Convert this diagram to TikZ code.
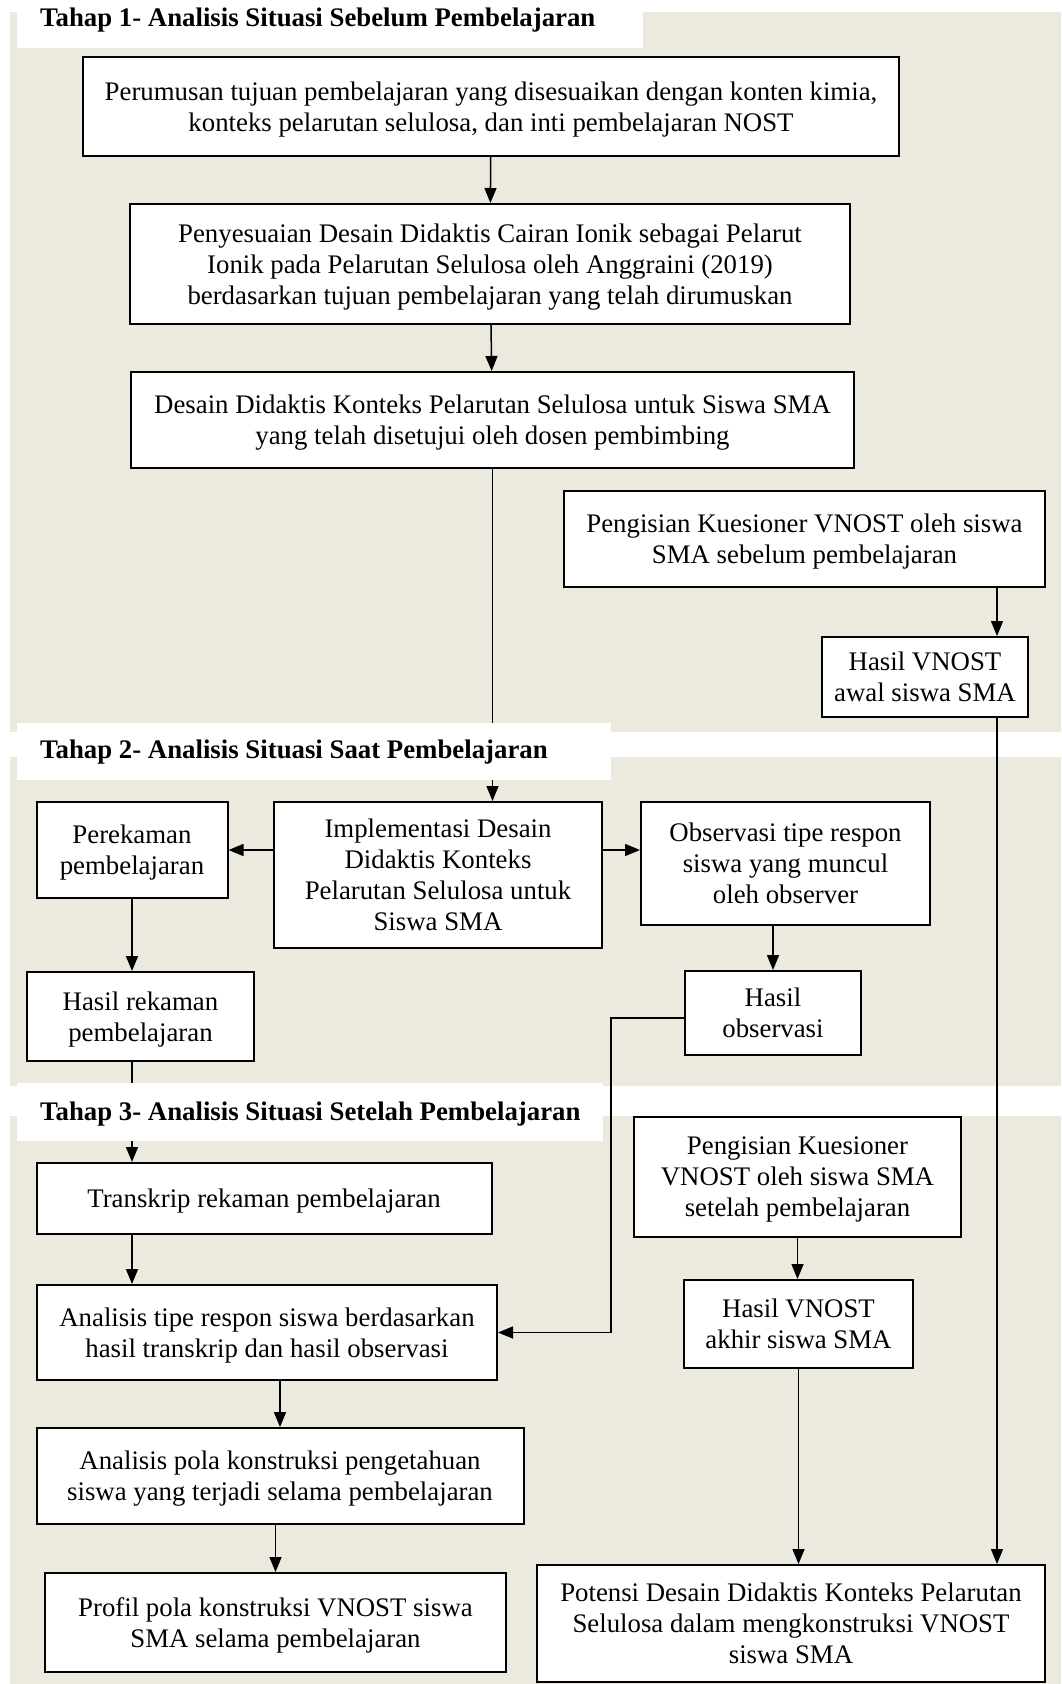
\documentclass[tikz,border=0pt]{standalone}
\usepackage{fontspec}
\setmainfont{Liberation Serif}
\usetikzlibrary{arrows.meta}
\definecolor{bandbeige}{RGB}{236,233,223}

\begin{document}
\begin{tikzpicture}[
    x=1pt, y=-1pt,
    box/.style={draw,fill=white,line width=2pt,align=center,inner sep=0pt,
        text depth=0pt,font=\fontsize{26.8}{31}\selectfont},
    tahap/.style={anchor=west,inner sep=0pt,font=\bfseries\fontsize{26.8}{31}\selectfont},
    flow/.style={->,line width=1.5pt},
    >={Triangle[length=15pt,width=12pt]}
]
\useasboundingbox (0,0) rectangle (1061,1684);

% bands
\fill[bandbeige] (10,12) rectangle (1061,732);
\fill[bandbeige] (10,757) rectangle (1061,1086);
\fill[bandbeige] (10,1116) rectangle (1061,1684);

% tahap 1
\node[box,minimum width=816pt,minimum height=99pt] (rumusan) at (491,106.5)
    {Perumusan tujuan pembelajaran yang disesuaikan dengan konten kimia,\\
     konteks pelarutan selulosa, dan inti pembelajaran NOST};
\node[box,minimum width=720pt,minimum height=120pt] (penyesuaian) at (490,264)
    {Penyesuaian Desain Didaktis Cairan Ionik sebagai Pelarut\\
     Ionik pada Pelarutan Selulosa oleh Anggraini (2019)\\
     berdasarkan tujuan pembelajaran yang telah dirumuskan};
\node[box,minimum width=723pt,minimum height=96pt] (desain) at (492.5,420)
    {Desain Didaktis Konteks Pelarutan Selulosa untuk Siswa SMA\\
     yang telah disetujui oleh dosen pembimbing};
\node[box,minimum width=481pt,minimum height=96pt] (kuesawal) at (804.5,539)
    {Pengisian Kuesioner VNOST oleh siswa\\ SMA sebelum pembelajaran};
\node[box,minimum width=206pt,minimum height=80pt] (hasilawal) at (925,677)
    {Hasil VNOST\\ awal siswa SMA};
\coordinate (jalurkanan) at (997,0);

% tahap 2
\node[box,minimum width=191pt,minimum height=96pt] (rekam) at (132,850)
    {Perekaman\\ pembelajaran};
\node[box,minimum width=328pt,minimum height=146pt] (implementasi) at (438,875)
    {Implementasi Desain\\ Didaktis Konteks\\ Pelarutan Selulosa untuk\\ Siswa SMA};
\node[box,minimum width=289pt,minimum height=123pt] (observasi) at (785.5,863.5)
    {Observasi tipe respon\\ siswa yang muncul\\ oleh observer};
\node[box,minimum width=227pt,minimum height=89pt] (hasilrekam) at (140.5,1016.5)
    {Hasil rekaman\\ pembelajaran};
\node[box,minimum width=176pt,minimum height=84pt] (hasilobs) at (773,1013)
    {Hasil\\ observasi};
\coordinate (belokobs) at (611,1018);

% tahap 3
\node[box,minimum width=455pt,minimum height=71pt] (transkrip) at (264,1198.5)
    {Transkrip rekaman pembelajaran};
\node[box,minimum width=460pt,minimum height=95pt] (analisisrespon) at (267,1332.5)
    {Analisis tipe respon siswa berdasarkan\\ hasil transkrip dan hasil observasi};
\node[box,minimum width=487pt,minimum height=96pt] (analisispola) at (280,1476)
    {Analisis pola konstruksi pengetahuan\\ siswa yang terjadi selama pembelajaran};
\node[box,minimum width=461pt,minimum height=99pt] (profil) at (275.5,1622.5)
    {Profil pola konstruksi VNOST siswa\\ SMA selama pembelajaran};
\node[box,minimum width=327pt,minimum height=120pt] (kuesakhir) at (797.5,1177)
    {Pengisian Kuesioner\\ VNOST oleh siswa SMA\\ setelah pembelajaran};
\node[box,minimum width=229pt,minimum height=88pt] (hasilakhir) at (798.5,1324)
    {Hasil VNOST\\ akhir siswa SMA};
\node[box,minimum width=508pt,minimum height=117pt] (potensi) at (791,1623.5)
    {Potensi Desain Didaktis Konteks Pelarutan\\ Selulosa dalam mengkonstruksi VNOST\\ siswa SMA};

% connectors
\draw[flow] (rumusan) -- (penyesuaian);
\draw[flow] (penyesuaian) -- (desain);
\draw[flow] (desain.south) -- (desain.south |- implementasi.north);
\draw[flow] (kuesawal.south -| jalurkanan) -- (hasilawal.north -| jalurkanan);
\draw[flow] (hasilawal.south -| jalurkanan) -- (potensi.north -| jalurkanan);
\draw[flow] (implementasi.west |- rekam.east) -- (rekam.east);
\draw[flow] (implementasi.east |- rekam.east) -- (observasi.west |- rekam.east);
\draw[flow] (rekam.south) -- (rekam.south |- hasilrekam.north);
\draw[flow] (hasilobs.north |- observasi.south) -- (hasilobs.north);
\draw[flow] (rekam.south |- hasilrekam.south) -- (rekam.south |- transkrip.north);
\draw[flow] (hasilobs.west |- belokobs) -- (belokobs) |- (analisisrespon.east);
\draw[flow] (rekam.south |- transkrip.south) -- (rekam.south |- analisisrespon.north);
\draw[flow] (analisispola.north |- analisisrespon.south) -- (analisispola.north);
\draw[flow] (profil.north |- analisispola.south) -- (profil.north);
\draw[flow] (kuesakhir) -- (kuesakhir.south |- hasilakhir.north);
\draw[flow] (hasilakhir.south) -- (hasilakhir.south |- potensi.north);

% stage titles, over the connectors
\fill[white] (17,0) rectangle (643,48);
\fill[white] (17,723) rectangle (611,780);
\fill[white] (17,1083) rectangle (603,1141);
\node[tahap] (tahap1) at (40,20) {Tahap 1- Analisis Situasi Sebelum Pembelajaran};
\node[tahap] (tahap2) at (40,752) {Tahap 2- Analisis Situasi Saat Pembelajaran};
\node[tahap] (tahap3) at (40,1114) {Tahap 3- Analisis Situasi Setelah Pembelajaran};
\end{tikzpicture}
\end{document}
